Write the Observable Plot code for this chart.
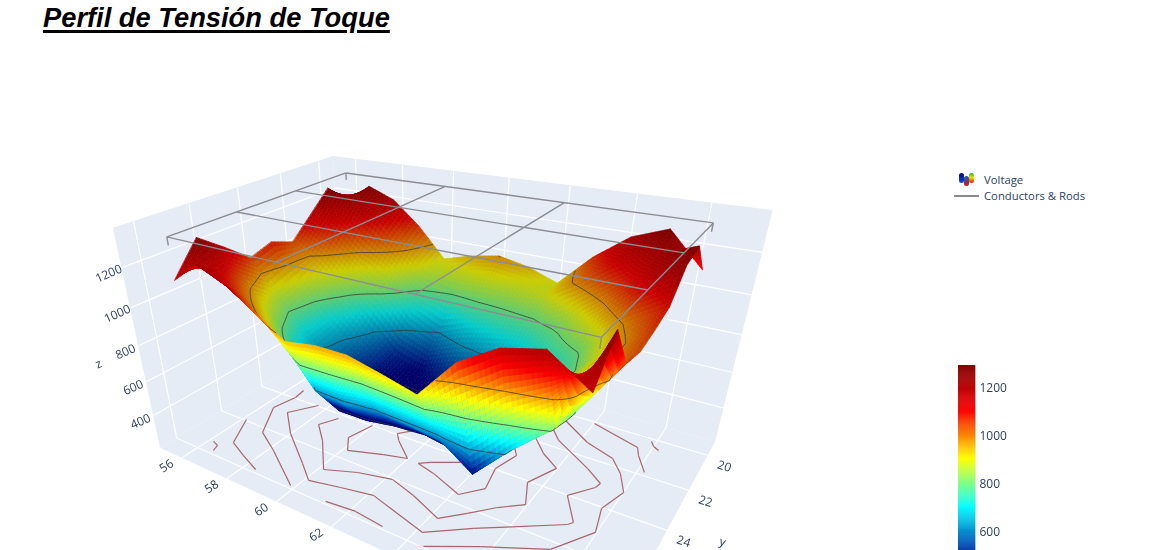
<!DOCTYPE html>
<html><head><meta charset="utf-8">
<script src="https://cdn.jsdelivr.net/npm/d3@7"></script>
<script src="https://cdn.jsdelivr.net/npm/@observablehq/plot@0.6"></script>
<style>
html,body{margin:0;padding:0;width:1150px;height:550px;overflow:hidden;background:#fff}
#chart,#bar{position:absolute}
#chart{left:0;top:0}#bar{left:958px;top:365px}
h1{position:absolute;left:43px;top:2px;margin:0;font:italic bold 27.3px "Liberation Sans",Arial,sans-serif;color:#000;text-decoration:underline;text-decoration-thickness:2.5px;text-underline-offset:3px}
.lg{position:absolute;font:11.3px "Open Sans",sans-serif;color:#2a3f5f;left:984px;line-height:16px}
#ln{position:absolute;left:954px;top:195px;width:25px;height:2px;background:#8a8a8f}
#ic{position:absolute;left:959px;top:173px;width:15px;height:13px;display:flex;gap:0}
#ic i{display:block;width:5px;height:10px;border-radius:3px}
svg{filter:blur(.35px)}
</style></head><body>
<h1>Perfil de Tensión de Toque</h1>
<div id="chart"></div><div id="bar"></div>
<div id="ic"><i style="background:linear-gradient(#00008a,#0a50e0)"></i><i style="background:linear-gradient(#0a60d0,#e01010);margin-top:3px"></i><i style="background:linear-gradient(#20b030,#f0e000 45%,#e01010)"></i></div>
<div class="lg" style="top:172px">Voltage</div>
<div id="ln"></div><div class="lg" style="top:188px">Conductors &amp; Rods</div>
<script>
const xGrid=[55.8,56.83,57.86,58.9,59.93,60.96,61.99,63.02,64.06,65.09,66.12,67.15,68.19];
const yGrid=[19.5,20.51,21.52,22.53,23.54,24.54,25.55,26.56,27.58];
const zRow0=[1145,1254,1197,1070,905,952,982,952,894,1066,1195,1259,1093];
const zRow1=[1262,1190,1120,990,870,850,860,860,890,1000,1120,1190,1257];
const zRow2=[1150,1080,950,880,700,625,690,730,750,820,960,1130,1225];
const zRow3=[1041,950,830,660,510,470,540,570,640,720,810,985,1099];
const zRow4=[1090,900,720,590,480,450,450,480,540,620,760,930,1065];
const zRow5=[1053,860,700,560,460,440,430,450,490,600,760,940,1040];
const zRow6=[1160,960,800,600,420,420,445,455,425,457,620,790,1065];
const zRow7=[1259,1100,970,820,620,600,630,610,590,470,660,820,1270];
const zRow8=[1100,1208,1148,1053,950,975,975,936,892,1082,1185,1225,1110];
const zRows=[zRow0,zRow1,zRow2,zRow3,zRow4,zRow5,zRow6,zRow7,zRow8];
const contourLevels=[451,626,801,981];
const colorStops=[470,530,708,908,1108,1296];
const colorRange=["rgb(0,0,131)","rgb(0,60,170)","rgb(5,255,255)","rgb(255,255,0)","rgb(250,0,0)","rgb(128,0,0)"];
const shadedRange=["rgb(0,0,105)","rgb(0,48,136)","rgb(4,204,204)","rgb(204,204,0)","rgb(200,0,0)","rgb(102,0,0)"];
const shadeOffset=2000;
const xTicks=[56,58,60,62,64,66,68];
const yTicks=[20,22,24,26,28];
const zTicks=[400,600,800,1000,1200];
const xLabels=[56,58,60,62];
const yLabels=[20,22,24];
const barTicks=[600,800,1000,1200];
const wireX=[55.8,59.9,64,68.2];
const wireY=[19.5,22.2,24.9,27.6];
const wireZ=1315, rodZ=1275;
const floorA=[[56.17,27.48],[56.45,27.57],[56.55,27.84]];
const floorB=[[56.14,25.95],[56.77,27.18],[57.57,27.53],[58.41,27.86]];
const floorC=[[56.51,23.43],[56.59,23.96],[56.39,24.88],[57.16,26.24],[58.18,26.82],[59.84,27.88]];
const floorD=[[57.64,23.95],[57.02,24.87],[57.99,25.80],[59.42,26.86],[60.13,27.41],[61.14,27.17],[62.16,26.95],[64.18,27.52],[65.23,26.65],[67.24,25.17],[67.34,25.01],[66.75,24.02],[67.27,23.26],[67.32,23.01],[66.74,22.52],[65.44,21.60],[64.97,21.01]];
const floorE=[[58.75,24.25],[58.42,24.89],[59.14,25.56],[60.16,26.75],[61.12,26.32],[62.19,26.04],[63.12,26.34],[64.22,26.82],[64.79,26.20],[65.36,25.54],[65.95,25.01],[65.56,24.07],[65.98,23.00],[65.34,22.50],[64.61,21.65]];
const floorF=[[59.98,23.99],[59.74,24.98],[60.16,25.57],[61.24,25.15],[61.98,24.93],[61.20,24.26],[60.94,23.95],[61.34,23.49]];
const floorG=[[63.96,23.50],[63.52,24.20],[62.68,24.73],[62.40,24.97],[63.05,25.15],[64.17,25.62],[64.68,24.97],[64.47,23.96],[64.70,23.03],[64.33,22.49]];
const floorH=[[61.18,27.90],[62.16,27.79],[63.15,27.90]];
const floorI=[[64.49,27.96],[65.72,27.17],[67.26,26.30],[67.97,25.07],[67.75,24.06],[68.01,23.06],[67.63,22.25],[67.18,21.65],[66.23,21.24],[65.16,20.41]];
const floorJ=[[66.01,20.09],[67.61,20.69],[67.77,21.09],[68.19,21.83]];
const floorK=[[67.86,20.15],[68.00,20.38],[68.19,20.52]];
const floorLines=[floorA,floorB,floorC,floorD,floorE,floorF,floorG,floorH,floorI,floorJ,floorK];

// camera of the 3D box
const xBox=[55,69.5], yBox=[19.17,28.67], zBox=[196.7,1385.4];
const U=x=>(x-xBox[0])/(xBox[1]-xBox[0]), V=y=>(y-yBox[0])/(yBox[1]-yBox[0]), W=z=>(z-zBox[0])/(zBox[1]-zBox[0]);
const depth=(x,y,z)=>1-.2519*U(x)-.2218*V(y)-.121*W(z);
function project(x,y,z){const u=U(x),v=V(y),w=W(z),d=depth(x,y,z);
  return {X:(343+191.9*u-218.5*v-50.34*w)/d, Y:(336-5.54*u+12.42*v-198.8*w)/d};}
const quadRows=(id,a,b,c,d,extra={})=>[{id,x1:a.X,y1:a.Y,x2:d.X,y2:d.Y,...extra},{id,x1:b.X,y1:b.Y,x2:c.X,y2:c.Y,...extra}];

const [x0,x1]=xBox,[y0,y1]=yBox,[z0,z1]=zBox;
const wallRows=[
 ...quadRows("floor",project(x0,y0,z0),project(x0,y1,z0),project(x1,y1,z0),project(x1,y0,z0)),
 ...quadRows("left",project(x0,y0,z0),project(x0,y1,z0),project(x0,y1,z1),project(x0,y0,z1)),
 ...quadRows("back",project(x0,y0,z0),project(x1,y0,z0),project(x1,y0,z1),project(x0,y0,z1))];
const seg=(a,b)=>({x1:a.X,y1:a.Y,x2:b.X,y2:b.Y});
const gridSegs=[
 ...zTicks.flatMap(z=>[seg(project(x0,y0,z),project(x0,y1,z)),seg(project(x0,y0,z),project(x1,y0,z))]),
 ...yTicks.flatMap(y=>[seg(project(x0,y,z0),project(x0,y,z1)),seg(project(x0,y,z0),project(x1,y,z0))]),
 ...xTicks.flatMap(x=>[seg(project(x,y0,z0),project(x,y0,z1)),seg(project(x,y0,z0),project(x,y1,z0))])];
const floorSegs=floorLines.flatMap(l=>d3.pairs(l).map(([a,b])=>seg(project(a[0],a[1],z0),project(b[0],b[1],z0))));
const wx0=wireX[0],wx1=wireX[3],wy0=wireY[0],wy1=wireY[3];
const wireSegs=[
 ...wireX.map(x=>seg(project(x,wy0,wireZ),project(x,wy1,wireZ))),
 ...wireY.map(y=>seg(project(wx0,y,wireZ),project(wx1,y,wireZ))),
 ...[[wx0,wy0],[wx1,wy0],[wx0,wy1],[wx1,wy1]].map(([x,y])=>seg(project(x,y,wireZ),project(x,y,rodZ)))];

// the surface is cut in small facets and painted strip by strip, far side first
const Su=8, Sv=[8,8,8,6,6,6,10,16];
const bil=(i,j,s,t)=>{const a=zRows[j][i],b=zRows[j][i+1],c=zRows[j+1][i],d=zRows[j+1][i+1];return (a*(1-s)+b*s)*(1-t)+(c*(1-s)+d*s)*t;};
const lerp=(a,b,s)=>a+(b-a)*s;
function isoSegs(pts){const out=[];
  for(const L of contourLevels)for(const tri of [[pts[0],pts[1],pts[2]],[pts[0],pts[2],pts[3]]]){
    const cr=[];
    for(let k=0;k<3;k++){const a=tri[k],b=tri[(k+1)%3];
      if((a[2]-L)*(b[2]-L)<0){const s=(L-a[2])/(b[2]-a[2]);cr.push(project(lerp(a[0],b[0],s),lerp(a[1],b[1],s),L));}}
    if(cr.length==2)out.push(seg(cr[0],cr[1]));}
  return out;}
const surfaceMarks=[];
const isoMark=segs=>Plot.link(segs,{x1:"x1",y1:"y1",x2:"x2",y2:"y2",stroke:"#333",strokeWidth:.9,strokeOpacity:.85});
const isoQueue=[];
for(let j=0;j<yGrid.length-1;j++)for(let q=0;q<Sv[j];q++){
  const rows=[],iso=[];let n=0;
  for(let i=0;i<xGrid.length-1;i++)for(let p=0;p<Su;p++){
    const pt=(pp,qq)=>{const s=pp/Su,t=qq/Sv[j];return [lerp(xGrid[i],xGrid[i+1],s),lerp(yGrid[j],yGrid[j+1],t),bil(i,j,s,t)];};
    const pts=[pt(p,q),pt(p+1,q),pt(p+1,q+1),pt(p,q+1)];
    const [A,B,C,E]=pts.map(a=>project(...a));
    const area=(C.X-A.X)*(E.Y-B.Y)-(E.X-B.X)*(C.Y-A.Y);
    const zv=d3.mean(pts,a=>a[2])+(area>0?shadeOffset:0);
    rows.push(...quadRows(n,A,B,C,E,{zv}));
    iso.push(...isoSegs(pts));n++;
  }
  surfaceMarks.push(Plot.area(rows,{x1:"x1",y1:"y1",x2:"x2",y2:"y2",z:"id",fill:"zv",stroke:"zv",strokeWidth:.7}));
  isoQueue.push(iso);
  if(isoQueue.length>2)surfaceMarks.push(isoMark(isoQueue.shift()));
}
isoQueue.forEach(s=>surfaceMarks.push(isoMark(s)));
const tickFont={fill:"#2a3f5f",fontFamily:"Open Sans",fontSize:12};
const xLab=xLabels.map(t=>({t:String(t),...project(t,y1,z0)}));
const yLab=yLabels.map(t=>({t:String(t),...project(x1,t,z0)}));
const zLab=zTicks.map(t=>({t:String(t),...project(x0,y1,t)}));
const chart=Plot.plot({width:1150,height:550,margin:0,
 x:{domain:[0,1150],range:[0,1150],axis:null},
 y:{domain:[0,550],range:[0,550],axis:null},
 color:{type:"linear",domain:[...colorStops,...colorStops.map(d=>d+shadeOffset)],range:[...colorRange,...shadedRange],interpolate:"rgb",clamp:true},
 style:{background:"transparent"},
 marks:[
  Plot.area(wallRows,{x1:"x1",y1:"y1",x2:"x2",y2:"y2",z:"id",fill:"#E5ECF6"}),
  Plot.link(gridSegs,{x1:"x1",y1:"y1",x2:"x2",y2:"y2",stroke:"#fff",strokeWidth:1.2}),
  Plot.link(floorSegs,{x1:"x1",y1:"y1",x2:"x2",y2:"y2",stroke:"#a8666c",strokeWidth:1.2}),
  ...surfaceMarks,
  Plot.link(wireSegs,{x1:"x1",y1:"y1",x2:"x2",y2:"y2",stroke:"#8c8c92",strokeWidth:1.4}),
  Plot.text(xLab,{x:"X",y:"Y",text:"t",dx:-15,dy:8,rotate:-33,...tickFont}),
  Plot.text(yLab,{x:"X",y:"Y",text:"t",dx:16,dy:11,rotate:18,...tickFont}),
  Plot.text(zLab,{x:"X",y:"Y",text:"t",dx:-13,dy:6,rotate:-24,...tickFont}),
  Plot.text([{t:"z",...project(x0,y1,700)}],{x:"X",y:"Y",text:"t",dx:-44,rotate:-24,...tickFont}),
  Plot.text([{t:"y",...project(x1,25,z0)}],{x:"X",y:"Y",text:"t",dx:67,dy:-11,rotate:18,...tickFont})
 ]});
document.getElementById("chart").append(chart);

const barBands=d3.range(408,1296,4);
const bar=Plot.plot({width:130,height:213,marginLeft:0,marginRight:113,marginTop:0,marginBottom:0,
 x:{domain:[0,1],axis:null},
 y:{domain:[408,1296],axis:null},
 color:{type:"linear",domain:colorStops,range:colorRange,interpolate:"rgb",clamp:true},
 style:{background:"transparent"},
 marks:[
  Plot.rect(barBands,{x1:0,x2:1,y1:d=>d,y2:d=>d+4,fill:d=>d+2,stroke:d=>d+2,strokeWidth:.5}),
  Plot.axisY(barTicks,{anchor:"right",tickSize:0,tickPadding:4,label:null,tickFormat:d=>String(d),...tickFont})
 ]});
document.getElementById("bar").append(bar);
</script></body></html>
